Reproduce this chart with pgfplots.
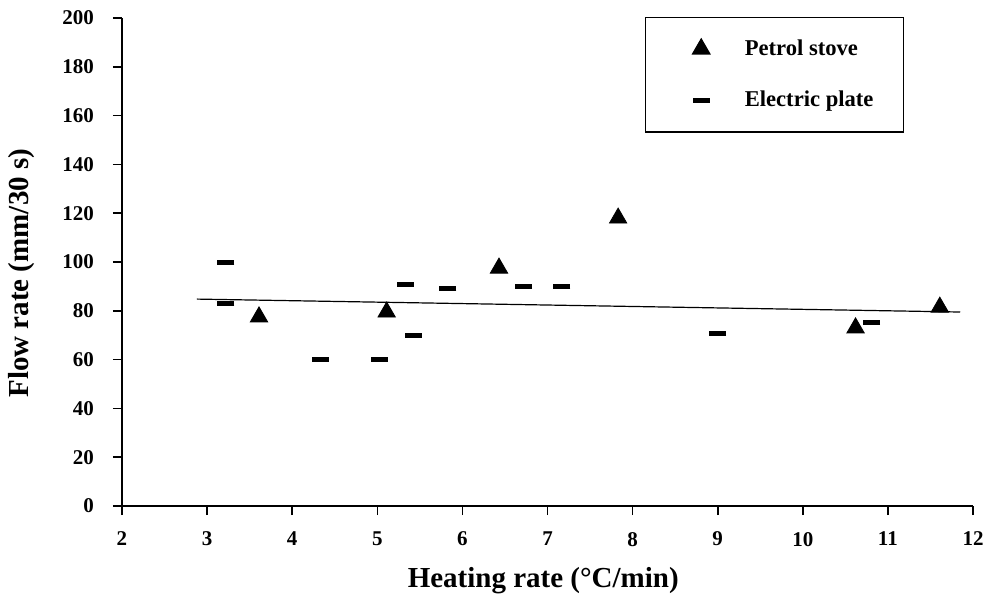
\documentclass[border=0pt]{standalone}
\usepackage{fontspec}
\setmainfont{Liberation Serif}
\usepackage{pgfplots}
\pgfplotsset{compat=1.18}
\pgfplotsset{myleg/.style={legend image code/.code={\path (0pt,0pt) (34pt,0pt); \draw[##1] plot coordinates {(14.5pt,0pt)};}}}
\begin{document}
\begin{tikzpicture}
\useasboundingbox (-61pt,-44.5pt) rectangle (431.5pt,253pt);
\begin{axis}[
  scale only axis, width=425.5pt, height=244pt,
  at={(0,0)}, anchor=south west,
  xmin=2, xmax=12, ymin=0, ymax=200,
  xtick={2,3,...,12}, ytick={0,20,...,200},
  axis lines=left, axis line style={-, line width=0.8pt},
  tick align=outside, major tick length=4.5pt,
  tick style={line width=0.8pt, black},
  /pgf/number format/assume math mode=true,
  ticklabel style={font=\bfseries\fontsize{10.5}{12}\selectfont},
  yticklabel style={xshift=-6pt},
  xticklabel style={yshift=-5pt},
  xlabel={Heating rate (°C/min)},
  ylabel={Flow rate (mm/30 s)},
  label style={font=\bfseries\fontsize{14.5}{17}\selectfont},
  xlabel style={at={(axis description cs:0.495,0)}, anchor=base, yshift=-40.5pt},
  ylabel style={at={(axis description cs:-0.1175,0.477)}, anchor=center, rotate=0},
  legend style={at={(axis description cs:0.6146,1.002)}, anchor=north west,
    draw=black, line width=0.6pt, inner xsep=13pt, inner ysep=9pt, row sep=12.5pt,
    font=\bfseries\fontsize{11.3}{13}\selectfont, cells={anchor=west}},
]
\addplot[only marks, mark=triangle*, mark size=5pt, black, myleg]
  coordinates {(3.61,77.5) (5.11,79.5) (6.43,97.5) (7.83,118) (10.62,73) (11.61,81.5)};
\addlegendentry{Petrol stove}
\addplot[only marks, mark=-, mark size=4.25pt, mark options={line width=2.5pt}, black, myleg]
  coordinates {(3.22,100) (3.22,82.8) (4.33,60.2) (5.02,60.2) (5.33,90.6) (5.42,70) (5.83,89.3) (6.72,90) (7.17,90) (9.0,70.9) (10.81,75.4)};
\addlegendentry{Electric plate}
\addplot[black, line width=0.6pt, forget plot] coordinates {(2.88,84.8) (11.85,79.5)};
\end{axis}
\end{tikzpicture}
\end{document}
